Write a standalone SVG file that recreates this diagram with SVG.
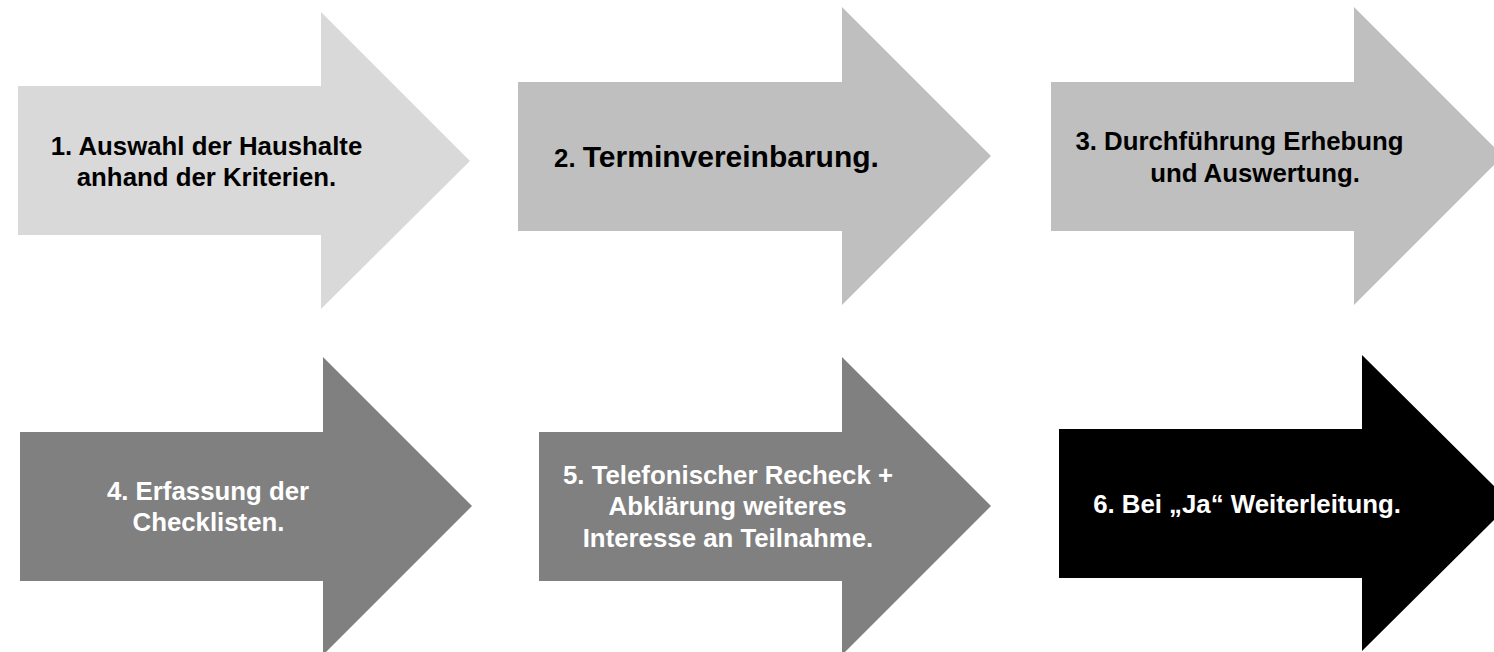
<svg xmlns="http://www.w3.org/2000/svg" width="1494" height="652" viewBox="0 0 1494 652">
<style>
text{font-family:"Liberation Sans",Arial,sans-serif;font-weight:bold;font-size:25.8px;text-anchor:middle}
.dk{fill:#000}
.lt{fill:#fff}
</style>
<rect width="1494" height="652" fill="#fff"/>
<g id="connectors"></g>
<g id="step1">
<polygon points="18,86 321,86 321,12 470,161 321,309 321,235 18,235" fill="#d9d9d9"/>
<text class="dk" x="206.5" y="155">1. Auswahl der Haushalte</text>
<text class="dk" x="206.5" y="186">anhand der Kriterien.</text>
</g>
<g id="step2">
<polygon points="518,82 842,82 842,7 991,156 842,305 842,231 518,231" fill="#bfbfbf"/>
<text class="dk" x="716.5" y="167"><tspan>2. </tspan><tspan style="font-size:30px">Terminvereinbarung.</tspan></text>
</g>
<g id="step3">
<polygon points="1051,82 1354,82 1354,7 1503,156 1354,305 1354,231 1051,231" fill="#bfbfbf"/>
<text class="dk" x="1239.5" y="150">3. Durchführung Erhebung</text>
<text class="dk" x="1255" y="182">und Auswertung.</text>
</g>
<g id="step4">
<polygon points="20,432 323,432 323,357 472,506 323,655 323,581 20,581" fill="#808080"/>
<text class="lt" x="208" y="500">4. Erfassung der</text>
<text class="lt" x="208.5" y="531">Checklisten.</text>
</g>
<g id="step5">
<polygon points="539,432 842,432 842,357 991,506 842,655 842,581 539,581" fill="#808080"/>
<text class="lt" x="728" y="484">5. Telefonischer Recheck +</text>
<text class="lt" x="727.5" y="515">Abklärung weiteres</text>
<text class="lt" x="728" y="547">Interesse an Teilnahme.</text>
</g>
<g id="step6">
<polygon points="1059,429 1362,429 1362,355 1511,503 1362,651 1362,578 1059,578" fill="#000"/>
<text class="lt" x="1247" y="513">6. Bei „Ja“ Weiterleitung.</text>
</g>
</svg>
